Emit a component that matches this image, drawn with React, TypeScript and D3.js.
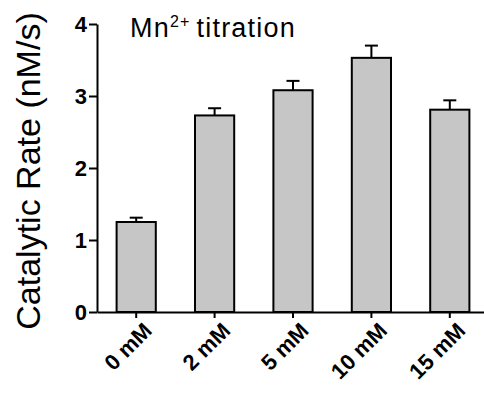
import React, { useEffect, useRef } from "react";
import * as d3 from "d3";

const categories = ["0 mM", "2 mM", "5 mM", "10 mM", "15 mM"];
const rates = [1.25, 2.73, 3.08, 3.53, 2.81];
const errors = [0.06, 0.1, 0.13, 0.17, 0.13];
const yTicks = [0, 1, 2, 3, 4];

const W = 484;
const H = 394;
const FONT = "'Liberation Sans', Arial, Helvetica, sans-serif";

const App = () => {
  const svgRef = useRef<SVGSVGElement>(null);

  useEffect(() => {
    if (!svgRef.current) return;
    const svg = d3.select(svgRef.current);
    svg.selectAll("*").remove();

    const x = d3
      .scaleBand()
      .domain(categories)
      .range([97, 489])
      .paddingInner(0.5)
      .paddingOuter(0.25);
    const y = d3.scaleLinear().domain([0, 4]).range([312, 24]);

    const rows = categories.map((c, i) => ({ c, v: rates[i], e: errors[i] }));

    // bars
    svg
      .append("g")
      .selectAll("rect")
      .data(rows)
      .join("rect")
      .attr("x", (d) => x(d.c)!)
      .attr("y", (d) => y(d.v))
      .attr("width", x.bandwidth())
      .attr("height", (d) => y(0) - y(d.v))
      .attr("fill", "#c6c6c6")
      .attr("stroke", "#000")
      .attr("stroke-width", 2);

    // error bars (upper only)
    const eb = svg.append("g").attr("stroke", "#000").attr("stroke-width", 2);
    rows.forEach((d) => {
      const cx = x(d.c)! + x.bandwidth() / 2;
      eb.append("line")
        .attr("x1", cx)
        .attr("x2", cx)
        .attr("y1", y(d.v))
        .attr("y2", y(d.v + d.e));
      eb.append("line")
        .attr("x1", cx - 6.5)
        .attr("x2", cx + 6.5)
        .attr("y1", y(d.v + d.e))
        .attr("y2", y(d.v + d.e));
    });

    // y axis
    const yAxis = svg
      .append("g")
      .attr("transform", "translate(97,0)")
      .attr("font-size", null)
      .call(
        d3
          .axisLeft(y)
          .tickValues(yTicks)
          .tickFormat(d3.format("d"))
          .tickSize(8)
          .tickSizeOuter(0)
          .tickPadding(2)
      );
    yAxis.select(".domain").attr("stroke-width", 2);
    yAxis.selectAll(".tick line").attr("stroke-width", 2);
    yAxis
      .selectAll(".tick text")
      .style("font-family", FONT)
      .style("font-size", "22px")
      .style("font-weight", "bold")
      .attr("fill", "#000");

    // x axis
    const xAxis = svg
      .append("g")
      .attr("transform", "translate(0,312)")
      .call(d3.axisBottom(x).tickSize(6).tickSizeOuter(0));
    xAxis.select(".domain").attr("stroke-width", 2);
    xAxis.selectAll(".tick line").attr("stroke-width", 2);
    xAxis
      .selectAll(".tick text")
      .style("font-family", FONT)
      .style("font-size", "22px")
      .style("font-weight", "bold")
      .attr("fill", "#000")
      .attr("text-anchor", "end")
      .attr("dy", null)
      .attr("y", null)
      .attr("transform", "translate(17,20) rotate(-45)");

    // y label
    svg
      .append("text")
      .attr("transform", "translate(40,171) rotate(-90)")
      .attr("text-anchor", "middle")
      .attr("font-family", FONT)
      .attr("font-size", 34)
      .attr("fill", "#000")
      .text("Catalytic Rate (nM/s)");

    // title
    const t = svg
      .append("text")
      .attr("x", 130)
      .attr("y", 37)
      .attr("font-family", FONT)
      .attr("font-size", 27)
      .attr("letter-spacing", 1.2)
      .attr("fill", "#000");
    t.append("tspan").text("Mn");
    t.append("tspan").attr("font-size", 16).attr("dy", -10).text("2+");
    t.append("tspan").attr("dy", 10).attr("dx", 6).text("titration");
  }, []);

  return (
    <svg
      ref={svgRef}
      width={W}
      height={H}
      style={{ position: "absolute", left: 0, top: 0, background: "#fff" }}
    />
  );
};

export default App;
